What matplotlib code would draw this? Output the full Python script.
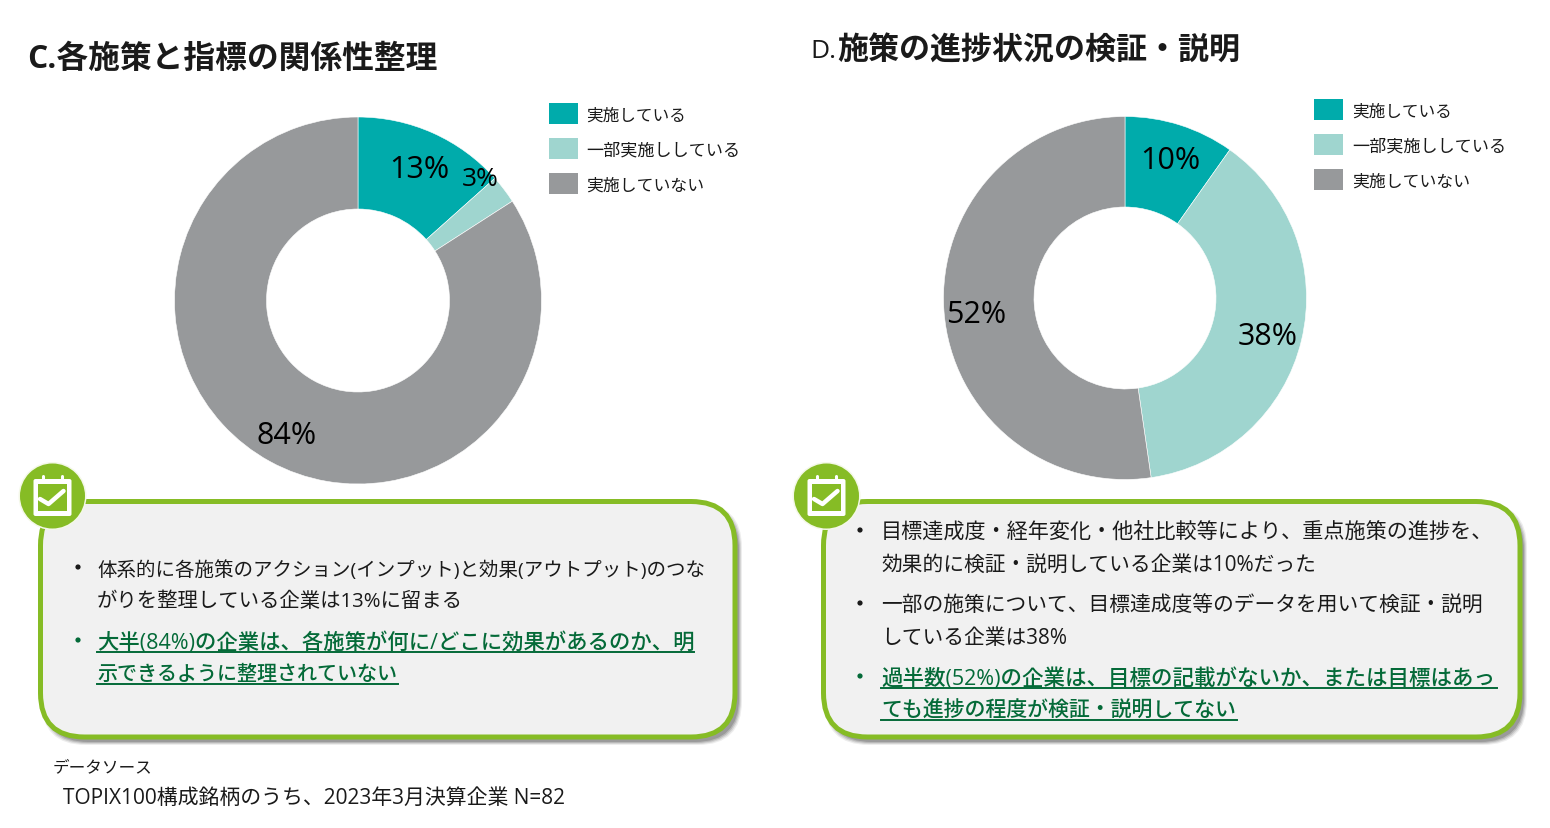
import matplotlib
matplotlib.use("Agg")
import matplotlib.pyplot as plt
from matplotlib.patches import Circle, FancyBboxPatch, Rectangle

plt.rcParams['font.family'] = ['Open Sans', 'Noto Sans CJK JP', 'DejaVu Sans']

#Chart values (slice angles are a bit more exact than the rounded labels)
legend_labels = ['実施している', '一部実施ししている', '実施していない']
values_c = [13.4, 2.5, 84.1]
values_d = [9.8, 37.9, 52.3]
pct_labels_c = ['13%', '3%', '84%']
pct_labels_d = ['10%', '38%', '52%']

title_c = 'C.各施策と指標の関係性整理'
title_d_head = 'D.'
title_d = '施策の進捗状況の検証・説明'

notes_c = ['体系的に各施策のアクション(インプット)と効果(アウトプット)のつな',
           'がりを整理している企業は13%に留まる']
notes_c_green = ['大半(84%)の企業は、各施策が何に/どこに効果があるのか、明',
                 '示できるように整理されていない']
notes_d_1 = ['目標達成度・経年変化・他社比較等により、重点施策の進捗を、',
             '効果的に検証・説明している企業は10%だった']
notes_d_2 = ['一部の施策について、目標達成度等のデータを用いて検証・説明',
             'している企業は38%']
notes_d_green = ['過半数(52%)の企業は、目標の記載がないか、または目標はあっ',
                 'ても進捗の程度が検証・説明してない']
source_head = 'データソース'
source_body = 'TOPIX100構成銘柄のうち、2023年3月決算企業 N=82'

colours = ['#00ABAB', '#9FD5CF', '#97999B']
box_green = '#86BC25'
dark_green = '#046A38'
box_bg = '#F1F1F1'
text_col = '#1A1A1A'

W, H = 1550, 829
fig = plt.figure(figsize=(W/100, H/100), dpi=100)
#Overlay axes in pixel coordinates for all the layout stuff, kept above the pie axes
ax = fig.add_axes([0, 0, 1, 1], zorder=10)
ax.set_xlim(0, W)
ax.set_ylim(H, 0)
ax.axis('off')
renderer = fig.canvas.get_renderer()


def fit_text(x, y, s, right, size=16, **kw):
    #Shrink/stretch font size so the string ends at the same pixel as the original
    t = ax.text(x, y+2, s, va='center', ha='left', fontsize=size, zorder=6, **kw)
    w = t.get_window_extent(renderer).width
    t.set_fontsize(size*(right-x)/w)
    return t


def donut(values, cx, cy, r, hole):
    pie_ax = fig.add_axes([(cx-r)/W, 1-(cy+r)/H, 2*r/W, 2*r/H])
    pie_ax.pie(values, colors=colours, startangle=90, counterclock=False, radius=1,
               wedgeprops=dict(width=1-hole/r, edgecolor='white', linewidth=0.4))
    pie_ax.set_xlim(-1, 1)
    pie_ax.set_ylim(-1, 1)


def legend(x, x_text, ys):
    rights = [99, 153, 117]
    for label, col, y, dx in zip(legend_labels, colours, ys, rights):
        ax.add_patch(Rectangle((x, y-10.5), 29, 21, facecolor=col, edgecolor='none'))
        fit_text(x_text-1, y, label, x_text+dx, color=text_col)


def box(x0, y0, x1, y1):
    #Soft shadow: a few see-through layers, then the real box on top
    for grow, alpha in [(3, 0.10), (2, 0.16), (1, 0.22), (0, 0.30)]:
        ax.add_patch(FancyBboxPatch((x0+4-grow, y0+5-grow), x1-x0+2*grow, y1-y0+2*grow,
                                    boxstyle="round,pad=0,rounding_size=44", facecolor='#555555',
                                    edgecolor='none', alpha=alpha, zorder=2))
    ax.add_patch(FancyBboxPatch((x0, y0), x1-x0, y1-y0, boxstyle="round,pad=0,rounding_size=44",
                                facecolor=box_bg, edgecolor=box_green, linewidth=3.6, zorder=3))


def icon(cx, cy):
    ax.add_patch(Circle((cx, cy), 34, facecolor='#F4F8E8', edgecolor='none', zorder=4))
    ax.add_patch(Circle((cx, cy), 32.5, facecolor=box_green, edgecolor='none', zorder=4))
    ax.add_patch(FancyBboxPatch((cx-19, cy-17), 38, 37, boxstyle="round,pad=0,rounding_size=2",
                                facecolor='white', edgecolor='none', zorder=5))
    ax.add_patch(Rectangle((cx-14.5, cy-12), 29, 27, facecolor=box_green, edgecolor='none', zorder=5))
    for dx in (-9.5, 9.5):
        ax.plot([cx+dx, cx+dx], [cy-20, cy-15], color='white', lw=2.2, zorder=5, solid_capstyle='round')
    ax.plot([cx-12.5, cx-4, cx+11], [cy+3, cy+8, cy-5], color='white', lw=3.2, zorder=6,
            solid_capstyle='round', solid_joinstyle='round')


def notes(bullet_x, text_x, lines, ys, rights, green=False):
    col = dark_green if green else text_col
    for s, y, right in zip(lines, ys, rights):
        fit_text(text_x, y, s, right, color=col, fontweight='medium' if green else 'normal')
        if green:
            ax.plot([text_x, right], [y+11.5, y+11.5], color=dark_green, lw=1.4, zorder=6)
    ax.add_patch(Circle((bullet_x, ys[0]), 2.6, facecolor=col, edgecolor='none', zorder=6))


#Titles
fit_text(27, 57, title_c, 437, size=22, fontweight='bold', color=text_col)
fit_text(810, 49, title_d_head, 836, size=22, color=text_col)
fit_text(837, 49, title_d, 1240, size=22, fontweight='bold', color=text_col)

#Donuts
donut(values_c, 358, 301.5, 183.5, 91.5)
donut(values_d, 1125, 299, 181.5, 91)

for s, x, y, fs in zip(pct_labels_c, [419, 480, 287], [170, 179, 436], [22, 19, 22]):
    ax.text(x, y, s, ha='center', va='center', fontsize=fs, color='black', zorder=6)
for s, x, y in zip(pct_labels_d, [1170, 1268, 976], [161, 337, 315]):
    ax.text(x, y, s, ha='center', va='center', fontsize=22, color='black', zorder=6)

legend(549, 587, [114.5, 149.5, 184.5])
legend(1314, 1353, [110.5, 145.5, 180.5])

#Comment boxes
box(40.5, 502.5, 735, 738)
box(823.5, 502.5, 1520, 738)
icon(52.5, 497)
icon(826.5, 497)

notes(78, 97, notes_c, [568, 600], [705, 464])
notes(78, 97, notes_c_green, [641, 673], [694, 398], green=True)
notes(860, 881, notes_d_1, [531, 563], [1494, 1316])
notes(860, 881, notes_d_2, [604, 636], [1484, 1067])
notes(860, 881, notes_d_green, [677, 709], [1497, 1237], green=True)

#Source note
fit_text(53, 766, source_head, 153, color=text_col)
fit_text(63, 796, source_body, 567, color=text_col)

fig.savefig('out.png', dpi=100)
